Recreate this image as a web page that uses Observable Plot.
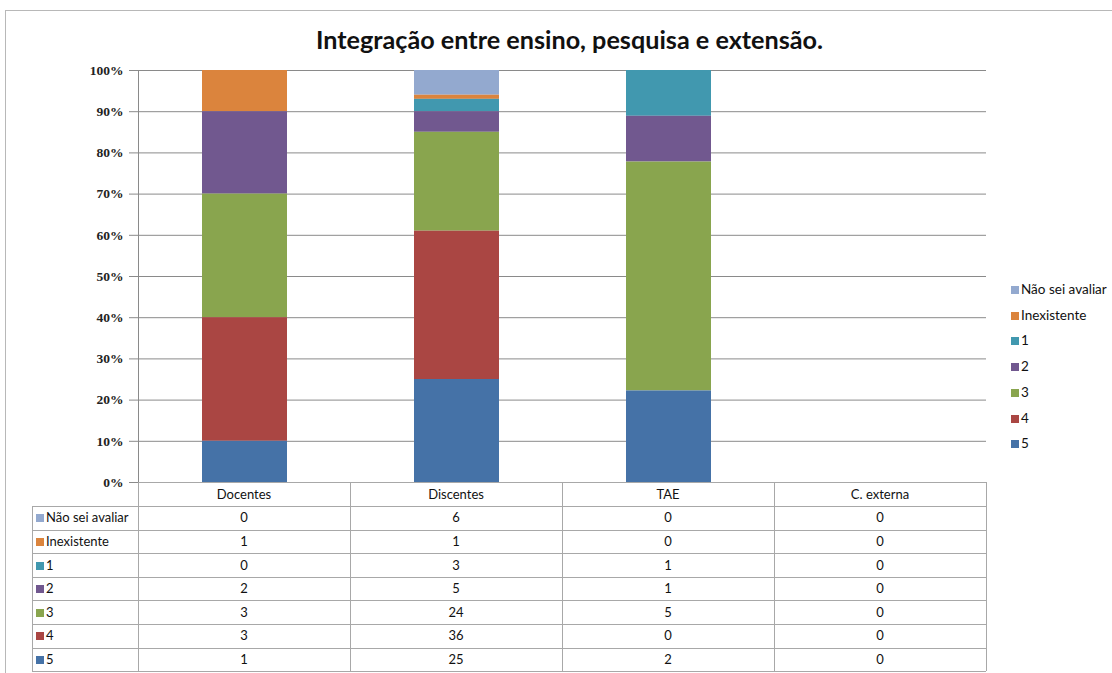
<!DOCTYPE html>
<html><head><meta charset="utf-8">
<script src="https://cdn.jsdelivr.net/npm/d3@7"></script>
<script src="https://cdn.jsdelivr.net/npm/@observablehq/plot@0.6"></script>
<style>
body{margin:0;background:#fff;font-family:Lato,"Open Sans",sans-serif;}
#wrap{position:relative;width:1112px;height:673px;overflow:hidden;background:#fff;}
#frame{position:absolute;left:5px;top:10px;width:1200px;height:800px;border:1px solid #b8b8b8;box-sizing:border-box;}
#title{position:absolute;left:0;width:1139px;top:26px;text-align:center;font-size:25.2px;font-weight:700;color:#111;line-height:1.1;}
#chart{position:absolute;left:0;top:0;}
.ln{position:absolute;background:#a8a8a8;}
.cell{position:absolute;font-size:13px;color:#111;text-align:center;line-height:1;}
.lab{position:absolute;font-size:13px;color:#111;line-height:1;white-space:nowrap;}
.sw{display:inline-block;width:8px;height:8px;margin-right:2px;vertical-align:0px;}
.leg{position:absolute;font-size:13.5px;color:#111;line-height:1;white-space:nowrap;}
</style>
</head><body>
<div id="wrap">
  <div id="frame"></div>
  <div id="chart"></div>
  <div id="title">Integração entre ensino, pesquisa e extensão.</div>
</div>
<script>
// ---- data ----
const categories = ["Docentes", "Discentes", "TAE", "C. externa"];
const series = ["Não sei avaliar", "Inexistente", "1", "2", "3", "4", "5"];
const naoSei      = [0, 6, 0, 0];
const inexistente = [1, 1, 0, 0];
const s1          = [0, 3, 1, 0];
const s2          = [2, 5, 1, 0];
const s3          = [3, 24, 5, 0];
const s4          = [3, 36, 0, 0];
const s5          = [1, 25, 2, 0];
const seriesValues = [naoSei, inexistente, s1, s2, s3, s4, s5];
const colors = ["#93A9CF", "#DB843D", "#4198AF", "#71588F", "#89A54E", "#AA4643", "#4572A7"];
const yTicks = [0, 0.1, 0.2, 0.3, 0.4, 0.5, 0.6, 0.7, 0.8, 0.9, 1];

const rows = [];
series.forEach((s, i) => categories.forEach((c, j) => rows.push({cat: c, series: s, value: seriesValues[i][j]})));

const W = 1112, H = 673;
const mL = 138, mR = W - 986, mT = 70, mB = H - 482;

const plot = Plot.plot({
  width: W, height: H,
  marginLeft: mL, marginRight: mR, marginTop: mT, marginBottom: mB,
  style: {fontFamily: "Lato, sans-serif", fontSize: "12px", color: "#111", background: "transparent"},
  x: {domain: categories, paddingInner: 0.6, paddingOuter: 0.3, axis: null},
  y: {domain: [0, 1]},
  color: {domain: series, range: colors},
  marks: [
    Plot.ruleY(yTicks, {stroke: "#8a8a8a", strokeWidth: 1}),
    Plot.barY(rows, Plot.stackY({
      offset: "normalize",
      order: series.slice().reverse(),
      x: "cat", y: "value", fill: "series"
    })),
    Plot.axisY({ticks: yTicks, tickFormat: d => Math.round(d * 100) + "%", tickSize: 9, tickPadding: 6,
      stroke: "#8a8a8a", fill: "#222", fontWeight: 700, fontSize: 13.5, fontFamily: "'Liberation Serif', serif", label: null}),
    Plot.frame({anchor: "left", stroke: "#8a8a8a"})
  ]
});
document.getElementById("chart").appendChild(plot);

// ---- table (HTML, aligned to the x scale) ----
const wrap = document.getElementById("wrap");
const xs = plot.scale("x");
const step = xs.step;
const colEdges = [32, mL];
categories.forEach((c, j) => colEdges.push(mL + step * (j + 1)));
const top0 = 482, headH = 24, rowH = 23.6;
const rowEdges = [top0, top0 + headH];
for (let i = 1; i <= series.length; i++) rowEdges.push(top0 + headH + rowH * i);
const bottom = rowEdges[rowEdges.length - 1];

function line(x, y, w, h) {
  const d = document.createElement("div");
  d.className = "ln";
  d.style.left = x + "px"; d.style.top = y + "px"; d.style.width = w + "px"; d.style.height = h + "px";
  wrap.appendChild(d);
}
for (let k = 1; k < colEdges.length; k++) line(Math.round(colEdges[k]), top0, 1, bottom - top0);
line(colEdges[0], rowEdges[1], 1, bottom - rowEdges[1]);
line(mL, top0, colEdges[colEdges.length - 1] - mL, 1);
for (let r = 1; r < rowEdges.length; r++) line(colEdges[0], Math.round(rowEdges[r]), colEdges[colEdges.length - 1] - colEdges[0], 1);

categories.forEach((c, j) => {
  const d = document.createElement("div");
  d.className = "cell";
  d.style.left = colEdges[j + 1] + "px"; d.style.width = step + "px";
  d.style.top = (top0 + headH / 2 - 6.5) + "px";
  d.textContent = c;
  wrap.appendChild(d);
});
series.forEach((s, i) => {
  const yc = rowEdges[i + 1] + rowH / 2;
  const lab = document.createElement("div");
  lab.className = "lab";
  lab.style.left = (colEdges[0] + 4) + "px";
  lab.style.top = (yc - 6.5) + "px";
  lab.innerHTML = `<span class="sw" style="background:${colors[i]}"></span>${s}`;
  wrap.appendChild(lab);
  categories.forEach((c, j) => {
    const d = document.createElement("div");
    d.className = "cell";
    d.style.left = colEdges[j + 1] + "px"; d.style.width = step + "px";
    d.style.top = (yc - 6.5) + "px";
    d.textContent = seriesValues[i][j];
    wrap.appendChild(d);
  });
});

// ---- legend ----
const legTop = 290, legStep = 25.7;
series.forEach((s, i) => {
  const d = document.createElement("div");
  d.className = "leg";
  d.style.left = "1011px";
  d.style.top = (legTop + legStep * i - 7) + "px";
  d.innerHTML = `<span class="sw" style="background:${colors[i]}"></span>${s}`;
  wrap.appendChild(d);
});
</script>
</body></html>
